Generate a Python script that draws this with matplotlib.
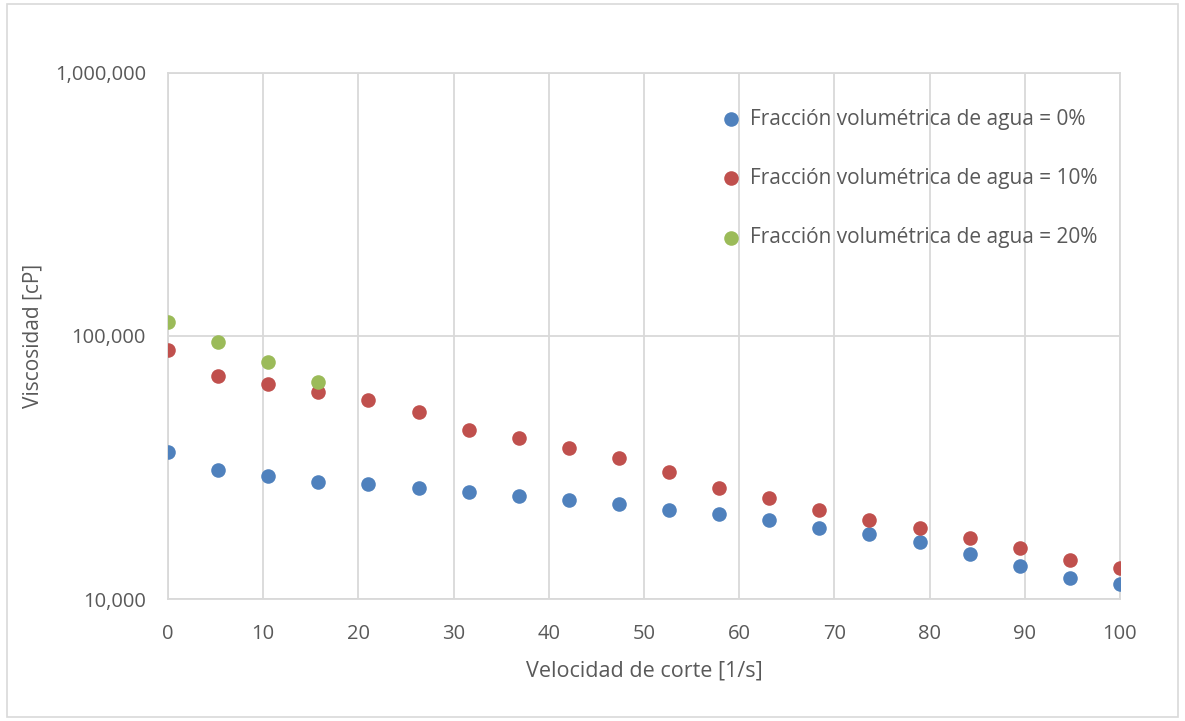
import matplotlib.pyplot as plt
import matplotlib.ticker as mticker
from matplotlib.patches import Rectangle
import numpy as np

# shear rate points (20 steps from 0 to 100 1/s)
shear_rate = np.linspace(0, 100, 20)

visc_0 = [36200, 30900, 29400, 27800, 27400, 26400, 25500, 24600, 23800, 23000,
          21800, 21000, 20000, 18600, 17700, 16500, 14800, 13400, 12000, 11400]
visc_10 = [88500, 70400, 65700, 61200, 57100, 51400, 43900, 41000, 37500, 34400,
           30400, 26400, 24200, 21800, 20000, 18600, 17100, 15600, 14100, 13100]
visc_20 = [113000, 94900, 79600, 66900]

labels = ['Fracción volumétrica de agua = 0%',
          'Fracción volumétrica de agua = 10%',
          'Fracción volumétrica de agua = 20%']
colors = ['#4F81BD', '#C0504D', '#9BBB59']

text_color = '#595959'
grid_color = '#D9D9D9'
plt.rcParams['font.family'] = ['Open Sans', 'DejaVu Sans']

fig = plt.figure(figsize=(11.85, 7.21), dpi=100)
ax = fig.add_axes([0.1418, 0.1692, 0.8033, 0.7296])

ax.scatter(shear_rate, visc_0, s=110, color=colors[0], label=labels[0], zorder=3, linewidths=0)
ax.scatter(shear_rate, visc_10, s=110, color=colors[1], label=labels[1], zorder=3, linewidths=0)
ax.scatter(shear_rate[:len(visc_20)], visc_20, s=110, color=colors[2], label=labels[2], zorder=3, linewidths=0)

ax.set_yscale('log')
ax.set_ylim(10000, 1000000)
ax.set_xlim(0, 100)
ax.set_xticks(np.arange(0, 101, 10))
ax.yaxis.set_major_locator(mticker.LogLocator(base=10, numticks=5))
ax.yaxis.set_minor_locator(mticker.NullLocator())
ax.yaxis.set_major_formatter(mticker.FuncFormatter(lambda v, p: f'{v:,.0f}'))

ax.grid(True, color=grid_color, linewidth=1.3, zorder=0)
ax.set_axisbelow(True)
for side in ax.spines.values():
    side.set_color(grid_color)
    side.set_linewidth(1.3)
ax.tick_params(length=0, labelsize=14.5, colors=text_color)
ax.tick_params(axis='y', pad=16)
ax.tick_params(axis='x', pad=18)

ax.set_xlabel('Velocidad de corte [1/s]', fontsize=15.5, color=text_color, labelpad=12)
ax.set_ylabel('Viscosidad [cP]', fontsize=15, color=text_color, labelpad=8)

leg = ax.legend(loc='upper left', bbox_to_anchor=(0.55, 0.968), frameon=False,
                fontsize=15, labelspacing=1.84, handletextpad=-0.1,
                scatterpoints=1, markerscale=1.0)
for t in leg.get_texts():
    t.set_color(text_color)

# outer chart border
fig.patches.append(Rectangle((0.006, 0.006), 0.988, 0.988, transform=fig.transFigure,
                             fill=False, edgecolor=grid_color, linewidth=1.2))

fig.savefig('out.png', dpi=100)
